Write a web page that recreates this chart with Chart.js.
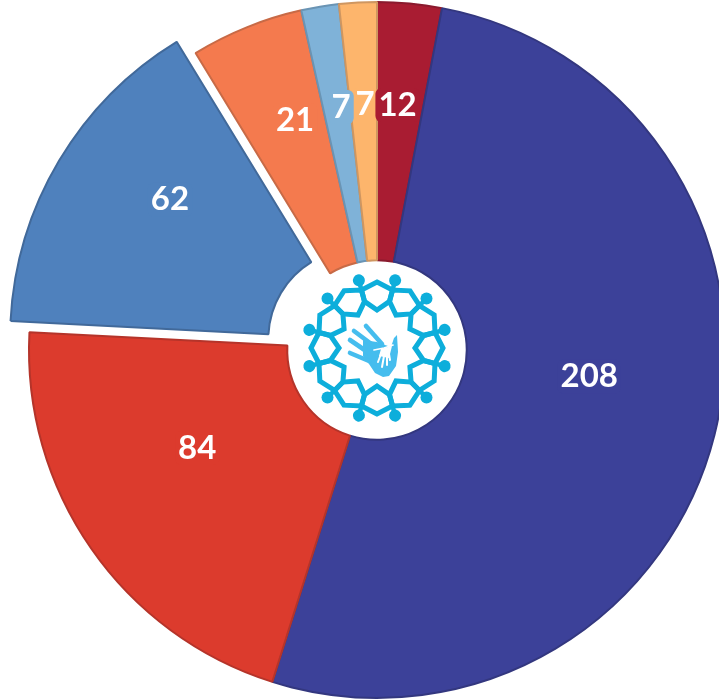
<!DOCTYPE html>
<html lang="en">
<head>
  <meta charset="UTF-8">
  <title>Pie</title>
  <script src="https://cdn.jsdelivr.net/npm/chart.js"></script>
  <style>
    html, body { margin:0; padding:0; background:#fff; width:719px; height:700px; overflow:hidden; }
    canvas { position:absolute; left:0; top:0; }
  </style>
</head>
<body>
<canvas id="pie" width="754" height="700"></canvas>
<script>
const categories = ['A','B','C','D','E','F','G'];
const values = [12,208,84,62,21,7,7];
const fillColors = ['#A91C32','#3C4199','#DC3B2D','#4F81BD','#F47A4E','#7FB2D8','#FDB56C'];
const edgeColors = ['#8A1A2E','#33377F','#B5342A','#41699A','#C86A46','#6A94B4','#CF9660'];
const explode = [0,0,0,22,0,0,0];

// pull the slice out without changing its radius
const explodePlugin = {
  id:'explodePlugin',
  afterDatasetsUpdate(chart){
    chart.getDatasetMeta(0).data.forEach((arc,i)=>{
      const mid=(arc.startAngle+arc.endAngle)/2;
      arc.x+=Math.cos(mid)*explode[i];
      arc.y+=Math.sin(mid)*explode[i];
    });
  }
};

const labelPlugin = {
  id:'labelPlugin',
  afterDatasetsDraw(chart){
    const ctx=chart.ctx;
    ctx.save();
    ctx.font='700 33px Lato';
    ctx.textAlign='center';
    ctx.textBaseline='middle';
    const arcs=chart.getDatasetMeta(0).data;
    // backgrounds last to first, the orange 7 sits under its neighbours
    for(let i=arcs.length-1;i>=0;i--){
      const p=arcs[i].getCenterPoint();
      const w=ctx.measureText(String(values[i])).width+6;
      ctx.fillStyle=fillColors[i];
      ctx.beginPath(); ctx.roundRect(p.x-w/2,p.y-27-17,w,34,6); ctx.fill();
    }
    ctx.fillStyle='#fff';
    arcs.forEach((arc,i)=>{
      const p=arc.getCenterPoint();
      ctx.fillText(String(values[i]),p.x,p.y-27);
    });
    ctx.restore();
  }
};

function line(ctx,pts,close){
  ctx.beginPath();
  pts.forEach((q,i)=>{ if(i) ctx.lineTo(q[0],q[1]); else ctx.moveTo(q[0],q[1]); });
  if(close) ctx.closePath();
}

const logoPlugin = {
  id:'logoPlugin',
  afterDraw(chart){
    const ctx=chart.ctx;
    const arc=chart.getDatasetMeta(0).data[0];
    ctx.save();
    ctx.translate(arc.x,arc.y-2);
    // ring of figures
    ctx.strokeStyle='#0DAEDB'; ctx.fillStyle='#0DAEDB'; ctx.lineWidth=5; ctx.lineJoin='miter';
    for(let k=0;k<12;k++){
      ctx.save();
      ctx.rotate(k*Math.PI/6);
      line(ctx,[[0,-66],[15.5,-58],[12.5,-46.6],[0,-38],[-12.5,-46.6],[-15.5,-58]],true);
      ctx.stroke();
      ctx.restore();
      ctx.save();
      ctx.rotate((k+0.5)*Math.PI/6);
      ctx.beginPath(); ctx.arc(0,-70,6,0,Math.PI*2); ctx.fill();
      ctx.lineWidth=4.5; line(ctx,[[0,-68],[0,-59]]); ctx.stroke();
      ctx.restore();
    }
    // large hand, coordinates from the logo centre
    ctx.strokeStyle='#45BDEE'; ctx.fillStyle='#45BDEE'; ctx.lineCap='round';
    line(ctx,[[-14,-8],[0,-6],[8,-3],[14,-1],[17,-10],[20,-13],[21,4],[19,18],[12,28],[6,29],[-2,25],[-8,16],[-14,8]],true);
    ctx.fill();
    ctx.lineWidth=4.6;
    [[[-11,-22],[5,-4]],[[-23,-17],[-3,-2]],[[-27,-8],[-8,5]],[[-27,5],[-8,13]]].forEach(f=>{ line(ctx,f); ctx.stroke(); });
    // small hand on top
    ctx.strokeStyle='#fff'; ctx.fillStyle='#fff'; ctx.lineWidth=1.7;
    line(ctx,[[16,-3],[7,0],[-3,2]]); ctx.stroke();
    line(ctx,[[15,-2],[4,1],[2,8],[12,10]],true); ctx.fill();
    ctx.lineWidth=2;
    [[[4,6],[1,14]],[[7,8],[5,19]],[[10,8],[10,17]],[[12,6],[13,12]]].forEach(f=>{ line(ctx,f); ctx.stroke(); });
    ctx.restore();
  }
};

new Chart(document.getElementById('pie'),{
  type:'doughnut',
  data:{
    labels:categories,
    datasets:[{
      data:values,
      backgroundColor:fillColors,
      borderColor:edgeColors,
      borderWidth:2,
      radius:348,
      cutout:90,
      clip:false
    }]
  },
  options:{
    responsive:false,
    animation:false,
    layout:{padding:0},
    plugins:{legend:{display:false},tooltip:{enabled:false}}
  },
  plugins:[explodePlugin,labelPlugin,logoPlugin]
});
</script>
</body>
</html>
